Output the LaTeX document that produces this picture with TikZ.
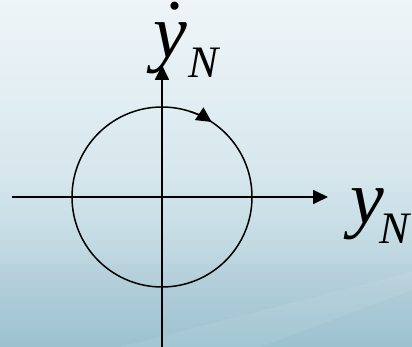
\documentclass[tikz,border=0pt]{standalone}
\usepackage{fontspec}
\setmainfont{Liberation Serif}
\newfontfamily\tnri{Liberation Serif Italic}
\usetikzlibrary{arrows.meta}
\definecolor{ctop}{HTML}{EEF4F8}
\definecolor{cb}{HTML}{E4EFF3}
\definecolor{cc}{HTML}{D6E7ED}
\definecolor{cd}{HTML}{C3DAE3}
\definecolor{ce}{HTML}{AFCCD8}
\definecolor{cbot}{HTML}{9CC2CF}
\pgfdeclareverticalshading{bgshade}{100bp}{color(0bp)=(cbot); color(25bp)=(cbot); color(33bp)=(ce); color(40bp)=(cd); color(50bp)=(cc); color(63bp)=(cb); color(75bp)=(ctop); color(100bp)=(ctop)}
\tikzset{
  axis/.style={line width=1.8pt, -{Triangle[length=15pt,width=14pt]}},
  orbit/.style={line width=1.5pt},
  lab/.style={inner sep=0pt, outer sep=0pt, font=\tnri\fontsize{76}{76}\selectfont}
}
\newcommand{\subN}{\raisebox{-20pt}{\tnri\fontsize{45}{45}\selectfont N}}
\begin{document}
\begin{tikzpicture}[x=1pt,y=-1pt]
\useasboundingbox (0,0) rectangle (412,347);
\shade[shading=bgshade] (0,0) rectangle (412,347);
\fill[white,opacity=0.07] (120,347) -- (412,272) -- (412,290) -- (260,347) -- cycle;
\coordinate (O) at (162,197);
\coordinate (xs) at (12,197);
\coordinate (xe) at (328,197);
\coordinate (ys) at (162,347);
\coordinate (ye) at (162,65);
\draw[axis] (xs) -- (xe);
\draw[axis] (ys) -- (ye);
\draw[orbit] (O) circle[radius=90];
\draw[orbit, -{Triangle[length=15pt,width=15pt]}] (O) ++(-72:90) arc[start angle=-72, end angle=-56.5, radius=90];
\node[lab, anchor=base west] (ydot) at (153,58) {\rlap{\kern4pt\raisebox{5pt}{\char"02D9}}y\kern2pt\subN};
\node[lab, anchor=base west] (yn) at (350,224) {y\kern-4pt\subN};
\end{tikzpicture}
\end{document}
